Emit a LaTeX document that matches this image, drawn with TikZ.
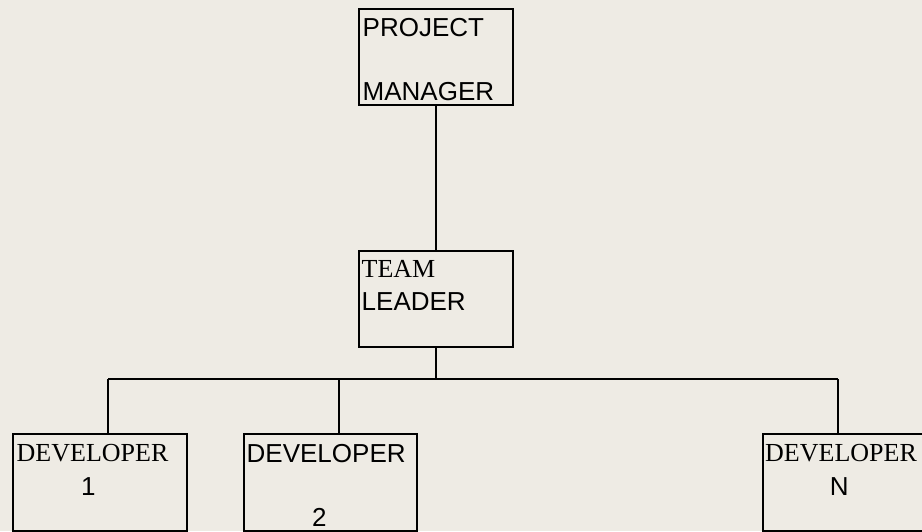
\documentclass[tikz,border=0pt]{standalone}
\usepackage{fontspec}
\setmainfont{Liberation Serif}
\newfontfamily\arialfont{Liberation Sans}
\definecolor{paper}{RGB}{238,235,228}
\begin{document}
\begin{tikzpicture}[x=1pt,y=-1pt,
  box/.style={draw=black,line width=1.8pt,rectangle,inner sep=0pt,anchor=north west},
  wire/.style={draw=black,line width=1.8pt},
  sanslbl/.style={inner sep=0pt,anchor=base west,font=\arialfont\fontsize{26}{30}\selectfont},
  seriflbl/.style={inner sep=0pt,anchor=base west,font=\fontsize{26}{30}\selectfont},
  numlbl/.style={inner sep=0pt,anchor=base,font=\arialfont\fontsize{26}{30}\selectfont}]
  % page background and fixed frame
  \fill[paper] (0,0) rectangle (922,531);
  \useasboundingbox (0,0) rectangle (922,531);
  \clip (0,0) rectangle (922,531);

  % boxes
  \node[box,minimum width=154pt,minimum height=96pt] (pm) at (358,8) {};
  \node[box,minimum width=154pt,minimum height=96pt] (tl) at (358,250) {};
  \node[box,minimum width=174pt,minimum height=97pt] (d1) at (12,433) {};
  \node[box,minimum width=173pt,minimum height=97pt] (d2) at (243,433) {};
  \node[box,minimum width=173pt,minimum height=97pt] (dn) at (762,433) {};

  % labels
  \node[sanslbl] (pmA) at (362.5,36) {PROJECT};
  \node[sanslbl] (pmB) at (362.5,100) {MANAGER};
  \node[seriflbl] (tlA) at (361.5,277.3) {TEAM};
  \node[sanslbl] (tlB) at (361.5,310.7) {LEADER};
  \node[seriflbl] (d1A) at (16.5,461.7) {DEVELOPER};
  \node[numlbl] (d1B) at (88.3,495) {1};
  \node[sanslbl] (d2A) at (246.5,462.7) {DEVELOPER};
  \node[numlbl] (d2B) at (319.3,526) {2};
  \node[seriflbl] (dnA) at (765,461.7) {DEVELOPER};
  \node[numlbl] (dnB) at (839.3,495) {N};

  % connectors
  \coordinate (hub) at (435.7,379);
  \coordinate (b1) at (108,379);
  \coordinate (b2) at (339.3,379);
  \coordinate (bn) at (837.7,379);
  \draw[wire] (pm.south -| hub) -- (tl.north -| hub);
  \draw[wire] (tl.south -| hub) -- (hub);
  \draw[wire] (b1) -- (bn);
  \draw[wire] (b1) -- (b1 |- d1.north);
  \draw[wire] (b2) -- (b2 |- d2.north);
  \draw[wire] (bn) -- (bn |- dn.north);
\end{tikzpicture}
\end{document}
